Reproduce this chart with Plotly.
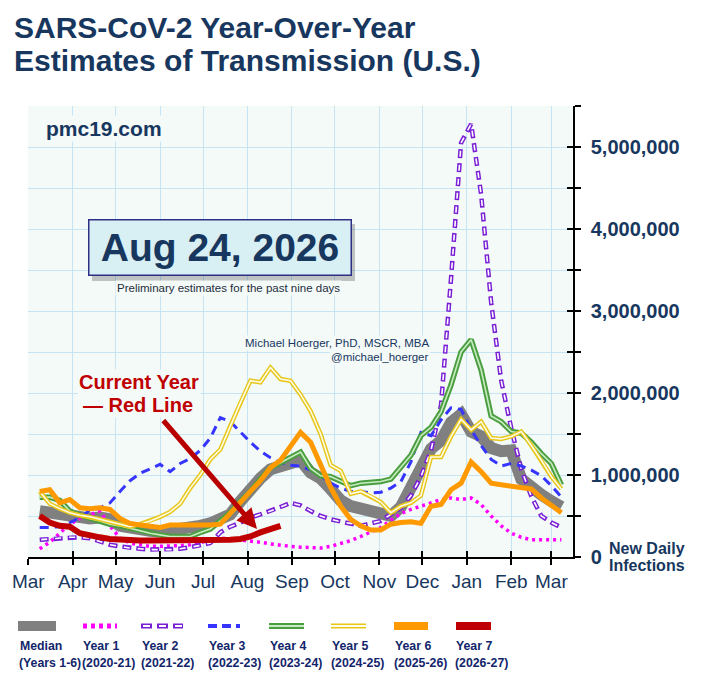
import plotly.graph_objects as go
import pandas as pd

# ---------------- data (millions of new daily infections, weekly) ----------------
weeks = pd.date_range("2026-03-09", periods=53, freq="7D")

median = [0.56, 0.54, 0.51, 0.49, 0.48, 0.47, 0.48, 0.46, 0.38, 0.35, 0.33, 0.32, 0.31, 0.32, 0.33, 0.35,
          0.38, 0.41, 0.45, 0.52, 0.68, 0.84, 0.96, 1.07, 1.11, 1.16, 1.18, 1.03, 0.96, 0.83, 0.69, 0.62,
          0.59, 0.56, 0.53, 0.50, 0.61, 0.83, 1.10, 1.32, 1.42, 1.64, 1.74, 1.53, 1.47, 1.33, 1.29, 1.30,
          0.95, 0.83, 0.76, 0.68, 0.61]
year1 = [0.10, 0.18, 0.29, 0.40, 0.47, 0.52, 0.56, 0.38, 0.23, 0.17, 0.15, 0.13, 0.13, 0.13, 0.14, 0.15,
         0.18, 0.21, 0.23, 0.22, 0.21, 0.20, 0.18, 0.16, 0.14, 0.13, 0.12, 0.11, 0.11, 0.13, 0.16, 0.20,
         0.25, 0.30, 0.36, 0.45, 0.53, 0.58, 0.62, 0.66, 0.70, 0.72, 0.70, 0.72, 0.64, 0.50, 0.38, 0.29,
         0.24, 0.21, 0.21, 0.21, 0.21]
year2 = [0.21, 0.22, 0.23, 0.24, 0.24, 0.23, 0.19, 0.15, 0.13, 0.11, 0.10, 0.09, 0.09, 0.09, 0.10, 0.12,
         0.14, 0.17, 0.30, 0.37, 0.42, 0.48, 0.52, 0.56, 0.61, 0.66, 0.63, 0.56, 0.50, 0.46, 0.43, 0.41,
         0.38, 0.41, 0.44, 0.52, 0.60, 0.75, 0.98, 1.30, 1.85, 3.40, 5.05, 5.28, 4.42, 3.10, 2.15, 1.57,
         1.07, 0.74, 0.50, 0.42, 0.36]
year3 = [0.36, 0.36, 0.37, 0.42, 0.48, 0.57, 0.60, 0.66, 0.80, 0.93, 1.02, 1.08, 1.13, 1.04, 1.14, 1.20,
         1.30, 1.45, 1.70, 1.65, 1.52, 1.40, 1.29, 1.21, 1.15, 1.12, 1.11, 1.06, 0.99, 0.90, 0.84, 0.80,
         0.80, 0.78, 0.79, 0.84, 0.92, 1.16, 1.52, 1.48, 1.67, 1.82, 1.80, 1.55, 1.36, 1.19, 1.11, 1.14,
         1.11, 1.06, 0.99, 0.87, 0.73]
year4 = [0.73, 0.73, 0.69, 0.56, 0.51, 0.47, 0.44, 0.40, 0.38, 0.35, 0.32, 0.29, 0.27, 0.25, 0.25, 0.25,
         0.30, 0.34, 0.44, 0.54, 0.68, 0.80, 0.95, 1.09, 1.15, 1.22, 1.28, 1.08, 0.99, 0.98, 0.92, 0.87,
         0.90, 0.91, 0.92, 0.95, 1.10, 1.24, 1.48, 1.58, 1.77, 2.10, 2.50, 2.65, 2.28, 1.72, 1.65, 1.53,
         1.51, 1.40, 1.26, 1.14, 0.88]
year5 = [0.80, 0.65, 0.59, 0.54, 0.51, 0.49, 0.46, 0.43, 0.40, 0.37, 0.40, 0.44, 0.49, 0.55, 0.65, 0.84,
         1.00, 1.19, 1.31, 1.60, 1.88, 2.15, 2.13, 2.31, 2.17, 2.15, 1.98, 1.78, 1.50, 1.12, 1.05, 0.77,
         0.80, 0.74, 0.67, 0.54, 0.62, 0.66, 0.75, 1.22, 1.22, 1.47, 1.68, 1.55, 1.65, 1.45, 1.44, 1.47,
         1.53, 1.36, 1.18, 0.98, 0.83]
year6 = [0.80, 0.82, 0.66, 0.70, 0.60, 0.59, 0.60, 0.58, 0.47, 0.41, 0.39, 0.37, 0.36, 0.39, 0.39, 0.39,
         0.38, 0.39, 0.40, 0.54, 0.68, 0.80, 0.93, 1.09, 1.18, 1.36, 1.52, 1.40, 1.12, 0.85, 0.62, 0.46,
         0.38, 0.33, 0.33, 0.40, 0.42, 0.43, 0.41, 0.62, 0.64, 0.82, 0.90, 1.16, 1.04, 0.90, 0.88, 0.86,
         0.84, 0.83, 0.72, 0.63, 0.54]
year7 = [0.50, 0.42, 0.38, 0.37, 0.29, 0.26, 0.24, 0.22, 0.21, 0.21, 0.20, 0.20, 0.20, 0.20, 0.20, 0.20,
         0.20, 0.21, 0.21, 0.21, 0.22, 0.25, 0.30, 0.34, 0.38]

month_ticks = pd.date_range("2026-03-01", "2027-03-01", freq="MS")
month_labels = ["Mar", "Apr", "May", "Jun", "Jul", "Aug", "Sep", "Oct", "Nov", "Dec", "Jan", "Feb", "Mar"]
y_ticks = list(range(0, 5_500_001, 500_000))
y_labels = [("0" if v == 0 else f"{v:,}") if v % 1_000_000 == 0 else "" for v in y_ticks]

legend_line1 = ["Median", "Year 1", "Year 2", "Year 3", "Year 4", "Year 5", "Year 6", "Year 7"]
legend_line2 = ["(Years 1-6)", "(2020-21)", "(2021-22)", "(2022-23)", "(2023-24)", "(2024-25)",
                "(2025-26)", "(2026-27)"]

# ---------------- geometry helpers (pixel -> paper) ----------------
W, H = 706, 679
PL, PR, PT, PB = 28, 573, 106, 557


def fx(x):
    return (x - PL) / (PR - PL)


def fy(y):
    return (PB - y) / (PB - PT)


NAVY = "#17375e"
FONT = "Liberation Sans, Arial, sans-serif"
PLOTBG = "#f4faf8"
GRID = "#c6e4f4"

C_MED = "#808080"
C_Y1 = "#ff00ff"
C_Y2 = "#7a1fd6"
C_Y3 = "#3535ff"
C_Y4 = "#4a9e3f"
C_Y4_IN = "#c8ecc2"
C_Y5 = "#e6c619"
C_Y5_IN = "#fffbe6"
C_Y6 = "#ff9900"
C_Y7 = "#c00000"

DASH2_OUT = "9px,5px"
DASH2_IN = "0px,1.5px,6px,6.5px"


def m(vals):
    return [v * 1e6 for v in vals]


fig = go.Figure()


def add_line(x, y, color, width, dash="solid"):
    fig.add_trace(go.Scatter(x=x, y=m(y), mode="lines", hoverinfo="skip", showlegend=False,
                             line=dict(color=color, width=width, dash=dash)))


add_line(weeks, median, C_MED, 12)
add_line(weeks, year1, C_Y1, 3.5, "3px,4px")
add_line(weeks, year2, C_Y2, 4.5, DASH2_OUT)
add_line(weeks, year2, "white", 1.6, DASH2_IN)
add_line(weeks, year3, C_Y3, 3, "9px,6px")
add_line(weeks, year4, C_Y4, 5.5)
add_line(weeks, year4, C_Y4_IN, 1.6)
add_line(weeks, year5, C_Y5, 4.5)
add_line(weeks, year5, C_Y5_IN, 1.6)
add_line(weeks, year6, C_Y6, 5)
add_line(weeks[:len(year7)], year7, C_Y7, 6)

# dummy trace for overlay axes (inner half of crossing ticks)
fig.add_trace(go.Scatter(x=[weeks[0]], y=[None], xaxis="x2", yaxis="y2", mode="lines",
                         hoverinfo="skip", showlegend=False))

x_range = ["2026-02-28 20:00", "2027-03-16 02:00"]
y_range = [0, 5.5e6]

fig.update_layout(
    width=W, height=H,
    margin=dict(l=PL, r=W - PR, t=PT, b=H - PB),
    paper_bgcolor="white", plot_bgcolor=PLOTBG,
    font=dict(family=FONT, color=NAVY),
    xaxis=dict(type="date", range=x_range, tickvals=month_ticks, ticktext=month_labels,
               showgrid=True, gridcolor=GRID, gridwidth=1, zeroline=False,
               showline=True, linecolor="black", linewidth=1.5,
               ticks="outside", ticklen=6, tickwidth=1.5, tickcolor="black",
               tickfont=dict(size=19, color=NAVY, family=FONT)),
    yaxis=dict(side="right", range=y_range, tickvals=y_ticks, ticktext=y_labels,
               showgrid=True, gridcolor=GRID, gridwidth=1, zeroline=False,
               showline=True, linecolor="black", linewidth=1.5,
               ticks="outside", ticklen=6, tickwidth=1.5, tickcolor="black",
               ticklabelstandoff=6,
               tickfont=dict(size=20, color=NAVY, family=FONT, weight="bold")),
    xaxis2=dict(type="date", overlaying="x", anchor="y2", range=x_range, tickvals=month_ticks,
                showticklabels=False, showgrid=False, zeroline=False, showline=False,
                ticks="inside", ticklen=6, tickwidth=1.5, tickcolor="black"),
    yaxis2=dict(overlaying="y", side="right", anchor="x2", range=y_range, tickvals=y_ticks,
                showticklabels=False, showgrid=False, zeroline=False, showline=False,
                ticks="inside", ticklen=6, tickwidth=1.5, tickcolor="black"),
)

ann = []
shapes = []

# Title
ann.append(dict(text="<b>SARS-CoV-2 Year-Over-Year</b>", xref="paper", yref="paper",
                x=fx(12), y=fy(27), xanchor="left", yanchor="middle", showarrow=False,
                font=dict(size=30, color=NAVY, family=FONT)))
ann.append(dict(text="<b>Estimates of Transmission (U.S.)</b>", xref="paper", yref="paper",
                x=fx(12), y=fy(61), xanchor="left", yanchor="middle", showarrow=False,
                font=dict(size=30, color=NAVY, family=FONT)))

# watermark
ann.append(dict(text="<b>pmc19.com</b>", xref="paper", yref="paper", x=fx(44), y=fy(128),
                xanchor="left", yanchor="middle", showarrow=False, bgcolor=PLOTBG,
                font=dict(size=21, color=NAVY, family=FONT)))

# date box with shadow
shapes.append(dict(type="rect", xref="paper", yref="paper", x0=fx(92), x1=fx(355), y0=fy(224), y1=fy(281),
                   fillcolor="rgba(0,0,0,0.22)", line=dict(width=0), layer="above"))
ann.append(dict(text="<b>Aug 24, 2026</b>", xref="paper", yref="paper", x=fx(219.5), y=fy(248),
                xanchor="center", yanchor="middle", showarrow=False,
                width=255, height=48, borderpad=3, bgcolor="#d8f0f4", bordercolor="#2e2e86", borderwidth=1.5,
                font=dict(size=39, color=NAVY, family=FONT)))
ann.append(dict(text="Preliminary estimates for the past nine days", xref="paper", yref="paper",
                x=fx(228), y=fy(288), xanchor="center", yanchor="middle", showarrow=False,
                bgcolor=PLOTBG, font=dict(size=11.5, color="#1f2d3d", family=FONT)))

# author
ann.append(dict(text="Michael Hoerger, PhD, MSCR, MBA", xref="paper", yref="paper",
                x=fx(431), y=fy(343), xanchor="right", yanchor="middle", showarrow=False,
                bgcolor=PLOTBG, font=dict(size=11.5, color=NAVY, family=FONT)))
ann.append(dict(text="@michael_hoerger", xref="paper", yref="paper",
                x=fx(431), y=fy(357), xanchor="right", yanchor="middle", showarrow=False,
                bgcolor=PLOTBG, font=dict(size=11.5, color=NAVY, family=FONT)))

# current year callout
ann.append(dict(text="<b>Current Year</b>", xref="paper", yref="paper", x=fx(138.5), y=fy(382),
                xanchor="center", yanchor="middle", showarrow=False, bgcolor=PLOTBG,
                font=dict(size=20, color=C_Y7, family=FONT)))
ann.append(dict(text="<b>— Red Line</b>", xref="paper", yref="paper", x=fx(137.5), y=fy(405),
                xanchor="center", yanchor="middle", showarrow=False, bgcolor=PLOTBG,
                font=dict(size=20, color=C_Y7, family=FONT)))
ann.append(dict(text="", xref="paper", yref="paper", x=fx(257), y=fy(529), ax=-95, ay=-110,
                showarrow=True, arrowhead=2, arrowsize=0.8, arrowwidth=5, arrowcolor="#b80000",
                standoff=0))

# y-axis unit
ann.append(dict(text="<b>New Daily</b>", xref="paper", yref="paper", x=fx(607), y=fy(548),
                xanchor="left", yanchor="middle", showarrow=False,
                font=dict(size=16, color=NAVY, family=FONT)))
ann.append(dict(text="<b>Infections</b>", xref="paper", yref="paper", x=fx(607), y=fy(565),
                xanchor="left", yanchor="middle", showarrow=False,
                font=dict(size=16, color=NAVY, family=FONT)))

# ---------------- custom legend ----------------
LEG_Y = 626
sample_x = [(18, 56), (83, 117), (141, 183), (208, 240), (269, 304), (331, 366), (394, 428), (456, 491)]
text_x = [18, 81, 140, 207, 268, 330, 393, 454]
LEG_COLOR = "#12256b"


def leg_line(x0, x1, color, width, dash="solid"):
    shapes.append(dict(type="line", xref="paper", yref="paper", x0=fx(x0), x1=fx(x1),
                       y0=fy(LEG_Y), y1=fy(LEG_Y), line=dict(color=color, width=width, dash=dash)))


leg_line(*sample_x[0], C_MED, 10)
leg_line(*sample_x[1], C_Y1, 5, "4px,4px")
leg_line(*sample_x[2], C_Y2, 5, "11px,5px")
leg_line(*sample_x[2], "white", 2, "0px,2px,7px,7px")
leg_line(*sample_x[3], C_Y3, 4, "9px,5px")
leg_line(*sample_x[4], C_Y4, 6)
leg_line(*sample_x[4], C_Y4_IN, 2)
leg_line(*sample_x[5], C_Y5, 5)
leg_line(*sample_x[5], C_Y5_IN, 2)
leg_line(*sample_x[6], C_Y6, 8)
leg_line(*sample_x[7], C_Y7, 8)

for i in range(len(legend_line1)):
    ann.append(dict(text="<b>" + legend_line1[i] + "</b>", xref="paper", yref="paper",
                    x=fx(text_x[i]), y=fy(645.5), xanchor="left", yanchor="middle", showarrow=False,
                    font=dict(size=12.3, color=LEG_COLOR, family=FONT)))
    ann.append(dict(text="<b>" + legend_line2[i] + "</b>", xref="paper", yref="paper",
                    x=fx(text_x[i] - 1), y=fy(662.5), xanchor="left", yanchor="middle", showarrow=False,
                    font=dict(size=12.3, color=LEG_COLOR, family=FONT)))

fig.update_layout(annotations=ann, shapes=shapes)
fig.write_html("out.html", config={"displayModeBar": False},
               post_script="document.body.style.margin='0px';")
